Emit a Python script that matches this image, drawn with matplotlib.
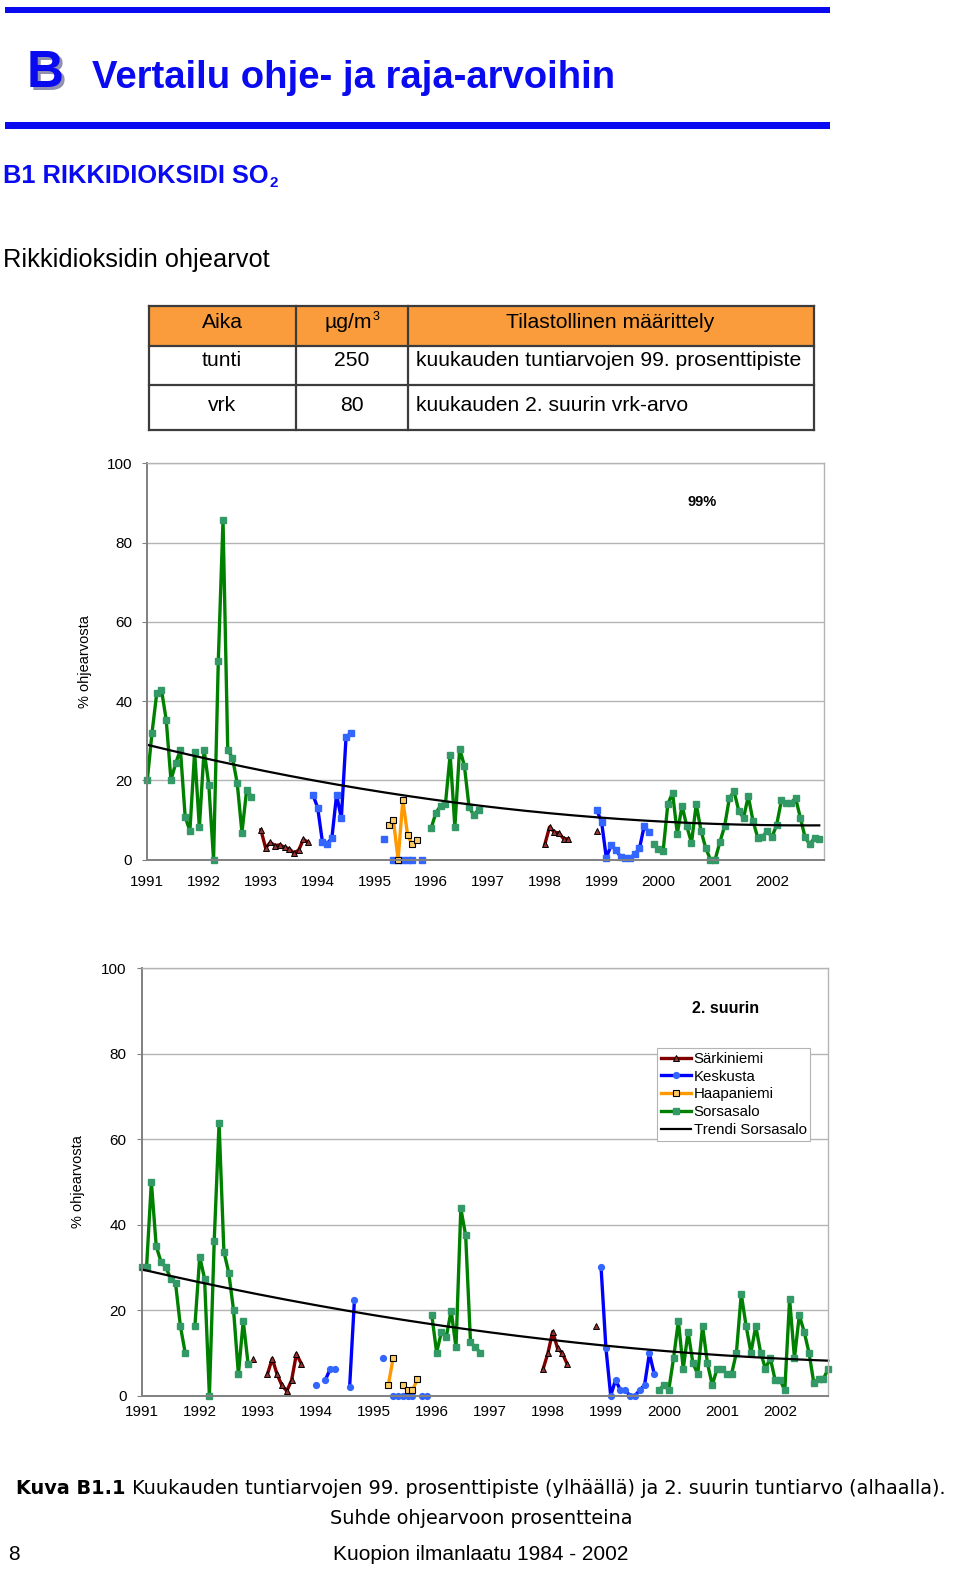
import numpy as np
import matplotlib.pyplot as plt
from matplotlib.patches import Rectangle
from matplotlib.lines import Line2D

plt.rcParams['font.family'] = ['Liberation Sans', 'DejaVu Sans']

BLUE = '#0A0AF0'

# page texts
page_letter = "B"
page_title = "Vertailu ohje- ja raja-arvoihin"
section_title = "B1 RIKKIDIOKSIDI SO"
subtitle = "Rikkidioksidin ohjearvot"
table_header = ["Aika", "µg/m", "Tilastollinen määrittely"]
table_rows = [["tunti", "250", "kuukauden tuntiarvojen 99. prosenttipiste"],
              ["vrk", "80", "kuukauden 2. suurin vrk-arvo"]]
caption_bold = "Kuva B1.1"
caption_rest = " Kuukauden tuntiarvojen 99. prosenttipiste (ylhäällä) ja 2. suurin tuntiarvo (alhaalla)."
caption_line2 = "Suhde ohjearvoon prosentteina"
footer = "Kuopion ilmanlaatu 1984 - 2002"
page_number = "8"

years = list(range(1991, 2003))
n_months = 143   # Jan 1991 .. Nov 2002

# % of guideline value, as (first month index, values); month 0 = Jan 1991
# upper chart: 99th percentile of hourly values
top_sarkiniemi = [(24, [7.5, 2.9, 4.3, 3.5, 3.7, 3.1, 2.7, 1.6, 2.4, 5.1, 4.3]),
                  (84, [3.8, 8.2, 6.9, 6.7, 5.2, 5.2]),
                  (95, [7.1])]
top_keskusta = [(35, [16.3, 13.1, 4.5, 4.0, 5.4, 16.3, 10.4, 30.9, 31.9]),
                (50, [5.2]),
                (52, [0, 0, 0, 0, 0]),
                (58, [0]),
                (95, [12.4, 9.5, 0.4, 3.6, 2.5, 0.7, 0.4, 0.4, 1.3, 2.8, 8.4, 6.9])]
top_haapaniemi = [(51, [8.7, 10.0, 0, 15.0, 6.2, 3.8, 5.0])]
top_sorsasalo = [(0, [20, 32, 42, 42.8, 35.2, 20, 24.3, 27.7, 10.8, 7.2, 27.2, 8.1,
                      27.7, 18.8, 0, 50, 85.6, 27.7, 25.6, 19.3, 6.8, 17.6, 15.9]),
                 (60, [8.0, 11.8, 13.6, 14.0, 26.5, 8.2, 28.0, 23.7, 13.2, 11.2, 12.6]),
                 (107, [4.0, 2.7, 2.1, 14.0, 16.8, 6.5, 13.6, 8.4, 4.2, 14.0, 7.3, 2.9,
                        0, 0, 4.4, 8.4, 15.5, 17.2, 12.2, 10.5, 16.0, 9.7, 5.5, 5.6,
                        7.3, 5.6, 8.8, 14.9, 14.3, 14.3, 15.5, 10.5, 5.6, 3.8, 5.5, 5.3])]

# lower chart: 2nd highest hourly value
bot_sarkiniemi = [(23, [8.7]),
                  (26, [5.0, 8.7, 5.0, 2.4, 1.1, 3.6, 9.8, 7.5]),
                  (83, [6.2, 9.9, 15.0, 11.1, 9.9, 7.4]),
                  (94, [16.2])]
bot_keskusta = [(36, [2.4]),
                (38, [3.75, 6.25, 6.25]),
                (43, [2.0, 22.5]),
                (50, [8.75]),
                (52, [0, 0, 0, 0, 0]),
                (58, [0, 0]),
                (95, [30.1, 11.25, 0, 3.7, 1.3, 1.3, 0, 0, 1.3, 2.5, 9.9, 5.1])]
bot_haapaniemi = [(51, [2.5, 8.75]),
                  (54, [2.5, 1.3, 1.3, 3.8])]
bot_sorsasalo = [(0, [30, 30, 50, 35, 31.3, 30, 27.4, 26.3, 16.3, 10]),
                 (11, [16.3, 32.5, 27.4, 0, 36.3, 63.8, 33.7, 28.8, 20, 5, 17.5, 7.5]),
                 (60, [18.8, 10.1, 15, 13.8, 19.9, 11.3, 43.8, 37.5, 12.5, 11.3, 10.1]),
                 (107, [1.3, 2.5, 1.3, 8.8, 17.5, 6.3, 15, 7.6, 5.1, 16.3, 7.6, 2.5,
                        6.3, 6.3, 5.1, 5.1, 10.1, 23.8, 16.3, 10.1, 16.3, 10.1, 6.3, 8.8,
                        3.7, 3.7, 1.3, 22.6, 8.8, 18.8, 15, 10.1, 3.0, 4.0, 4.0, 6.3])]

station_names = ["Särkiniemi", "Keskusta", "Haapaniemi", "Sorsasalo", "Trendi Sorsasalo"]


def to_series(segments, n):
    y = np.full(n, np.nan)
    for start, vals in segments:
        y[start:start + len(vals)] = vals
    return y


def quad_trend(y):
    m = np.arange(len(y))
    ok = ~np.isnan(y)
    c = np.polyfit(m[ok], y[ok], 2)
    return np.polyval(c, m)


fig = plt.figure(figsize=(9.6, 15.84), dpi=100)
page = fig.add_axes([0, 0, 1, 1])
page.set_xlim(0, 960)
page.set_ylim(1584, 0)
page.axis('off')
renderer = fig.canvas.get_renderer()

# header
page.add_patch(Rectangle((5, 7), 825, 6, color=BLUE, lw=0))
page.add_patch(Rectangle((5, 122), 825, 7, color=BLUE, lw=0))
page.text(29.5, 89.5, page_letter, fontsize=37, weight='bold', color='#9090B0', va='baseline')
page.text(27, 87, page_letter, fontsize=37, weight='bold', color=BLUE, va='baseline')
page.text(92, 88, page_title, fontsize=27.5, weight='bold', color=BLUE, va='baseline')

t = page.text(3, 183, section_title, fontsize=18.3, weight='bold', color=BLUE, va='baseline')
x_end = t.get_window_extent(renderer).x1
page.text(x_end + 1, 187, "2", fontsize=11, weight='bold', color=BLUE, va='baseline')

page.text(3, 266.5, subtitle, fontsize=18.3, va='baseline')

# guideline table
col_x = [149, 296, 408, 814]
row_y = [306, 346, 385, 430]
page.add_patch(Rectangle((col_x[0], row_y[0]), col_x[3] - col_x[0], row_y[1] - row_y[0],
                         facecolor='#FA9C3C', edgecolor='none'))
for y in row_y:
    page.plot([col_x[0], col_x[3]], [y, y], color='#3C3C3C', lw=1.6)
for x in col_x:
    page.plot([x, x], [row_y[0], row_y[3]], color='#3C3C3C', lw=1.6)

tfs = 15.2
base_y = [328, 366, 411]
page.text(222, base_y[0], table_header[0], fontsize=tfs, ha='center', va='baseline')
page.text(372, base_y[0], table_header[1], fontsize=tfs, ha='right', va='baseline')
page.text(372.5, base_y[0] - 8, "3", fontsize=9, ha='left', va='baseline')
page.text(610, base_y[0], table_header[2], fontsize=tfs, ha='center', va='baseline')
for row, y in zip(table_rows, base_y[1:]):
    page.text(222, y, row[0], fontsize=tfs, ha='center', va='baseline')
    page.text(352, y, row[1], fontsize=tfs, ha='center', va='baseline')
    page.text(416, y, row[2], fontsize=tfs, ha='left', va='baseline')


def style_axes(ax, xmax, xpad):
    ax.set_xlim(0, xmax)
    ax.set_ylim(0, 100)
    ax.set_yticks(range(0, 101, 20))
    ax.set_xticks(range(0, 133, 12))
    ax.set_xticklabels(years)
    ax.grid(axis='y', color='#B4B4B4', lw=1)
    ax.set_axisbelow(True)
    for s in ['left', 'bottom']:
        ax.spines[s].set_color('#808080')
        ax.spines[s].set_linewidth(1.4)
    for s in ['top', 'right']:
        ax.spines[s].set_color('#B4B4B4')
        ax.spines[s].set_linewidth(1.0)
    ax.tick_params(axis='y', length=3.6, color='#808080', pad=7.3, labelsize=11)
    ax.tick_params(axis='x', length=0, pad=xpad, labelsize=11)
    ax.set_ylabel('% ohjearvosta', fontsize=10.5)
    ax.yaxis.set_label_coords(-0.082, 0.5)


def draw_series(ax, sark, kesk, haap, sors, kesk_marker):
    m = np.arange(n_months)
    common = dict(lw=2.4, clip_on=False)
    ax.plot(m, to_series(sark, n_months), color='#800000', marker='^', ms=5,
            mfc='#993333', mec='black', mew=0.7, **common)
    ax.plot(m, to_series(kesk, n_months), color='#0000FF', marker=kesk_marker, ms=4.2,
            mfc='#3366FF', mec='#3366FF', **common)
    ax.plot(m, to_series(haap, n_months), color='#FF9900', marker='s', ms=4.6,
            mfc='#FFCC66', mec='black', mew=0.8, **common)
    y = to_series(sors, n_months)
    ax.plot(m, y, color='#008000', marker='s', ms=4.2,
            mfc='#339966', mec='#339966', **common)
    ax.plot(m, quad_trend(y), color='black', lw=1.6, clip_on=False)


# upper chart: 99th percentile
ax1 = fig.add_axes([147.3 / 960, 1 - 859.5 / 1584, (824 - 147.3) / 960, (859.5 - 463.3) / 1584])
style_axes(ax1, 143, 11)
draw_series(ax1, top_sarkiniemi, top_keskusta, top_haapaniemi, top_sorsasalo, 's')
ax1.text(0.82, 0.902, "99%", transform=ax1.transAxes, fontsize=10.5, weight='bold',
         ha='center', va='center')

# lower chart: 2nd highest
ax2 = fig.add_axes([141.7 / 960, 1 - 1395.7 / 1584, (828.3 - 141.7) / 960, (1395.7 - 968.3) / 1584])
style_axes(ax2, 142, 6.5)
draw_series(ax2, bot_sarkiniemi, bot_keskusta, bot_haapaniemi, bot_sorsasalo, 'o')
ax2.text(0.851, 0.907, "2. suurin", transform=ax2.transAxes, fontsize=11.5, weight='bold',
         ha='center', va='center')

handles = [
    Line2D([], [], color='#800000', lw=2.4, marker='^', ms=5, mfc='#993333', mec='black', mew=0.7),
    Line2D([], [], color='#0000FF', lw=2.4, marker='o', ms=4.2, mfc='#3366FF', mec='#3366FF'),
    Line2D([], [], color='#FF9900', lw=2.4, marker='s', ms=4.6, mfc='#FFCC66', mec='black', mew=0.8),
    Line2D([], [], color='#008000', lw=2.4, marker='s', ms=4.2, mfc='#339966', mec='#339966'),
    Line2D([], [], color='black', lw=1.6),
]
leg = ax2.legend(handles, station_names, loc='upper left', bbox_to_anchor=(0.7505, 0.8135),
                 fontsize=10.8, frameon=True, fancybox=False, edgecolor='#B4B4B4', framealpha=1,
                 borderpad=0.25, labelspacing=0.25, handlelength=2.0, handletextpad=0.2,
                 borderaxespad=0, numpoints=1)
leg.get_frame().set_linewidth(0.8)

# caption
cap_font = ['DejaVu Sans']
cfs = 13.9
tb = page.text(0, 1494, caption_bold, fontsize=cfs, weight='bold', family=cap_font, va='baseline')
tr = page.text(0, 1494, caption_rest, fontsize=cfs, family=cap_font, va='baseline')
wb = tb.get_window_extent(renderer).width
wr = tr.get_window_extent(renderer).width
x0 = 481 - (wb + wr) / 2
tb.set_x(x0)
tr.set_x(x0 + wb)
page.text(481, 1524, caption_line2, fontsize=cfs, family=cap_font, ha='center', va='baseline')
page.text(8, 1560, page_number, fontsize=15, va='baseline')
page.text(481, 1560, footer, fontsize=15, ha='center', va='baseline')

fig.savefig('out.png', dpi=100)
